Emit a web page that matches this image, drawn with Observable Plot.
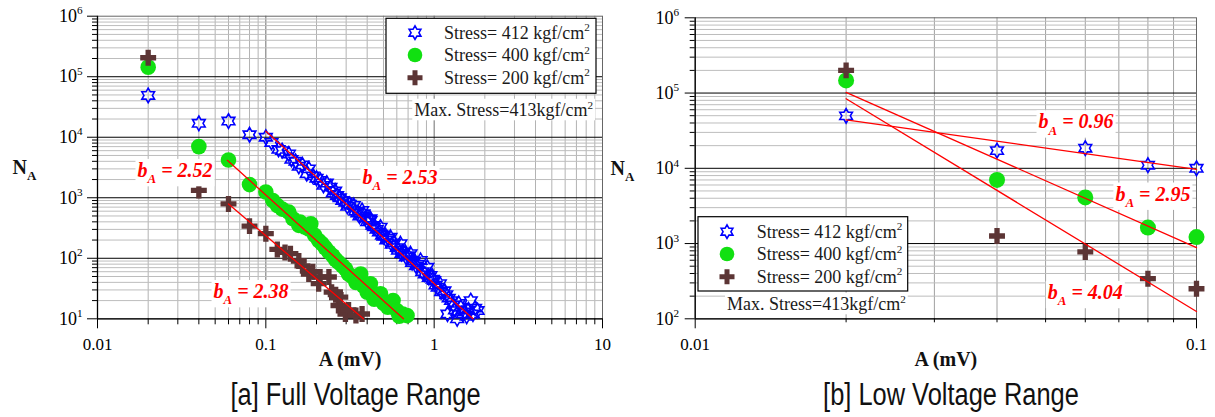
<!DOCTYPE html>
<html><head><meta charset="utf-8">
<script src="https://cdn.jsdelivr.net/npm/d3@7"></script>
<script src="https://cdn.jsdelivr.net/npm/@observablehq/plot@0.6"></script>
<style>
html,body{margin:0;padding:0;background:#fff;}
#wrap{display:flex;width:1215px;height:417px;overflow:hidden;}
.panel{position:relative;height:417px;}
.cap{position:absolute;text-align:center;white-space:nowrap;color:#111;font-family:"Liberation Sans",Arial,sans-serif;font-size:31px;line-height:34px;}
.cap span{display:inline-block;transform:scaleX(0.82);transform-origin:center;}
</style></head><body>
<div id="wrap"><div class="panel" id="pa"></div><div class="panel" id="pb"></div></div>
<script>
const SERIF = "'Liberation Serif','Times New Roman',serif";

// ---------- data: panel [a] Full Voltage Range ----------
const a412 = [[0.02,49000],[0.04,17000],[0.06,18500],[0.08,11000],[0.1,10000],
 [0.108,8200],[0.119,6300],[0.125,6000],[0.137,5300],[0.142,4300],[0.15,4000],[0.157,3300],[0.165,3500],
 [0.18,3000],[0.175,2500],[0.19,2300],[0.2,2100],[0.211,1930],[0.22,1600],[0.23,1750],[0.242,1500],
 [0.25,1200],[0.258,1300],[0.265,1090],[0.275,1000],[0.285,900],[0.297,845],[0.305,720],[0.315,780],
 [0.333,746],[0.34,600],[0.35,560],[0.36,500],[0.373,617],[0.38,543],[0.39,460],[0.40,400],[0.418,449],
 [0.418,421],[0.43,350],[0.44,330],[0.455,300],[0.47,270],[0.48,327],[0.49,240],[0.5,230],[0.52,200],
 [0.53,215],[0.55,223],[0.56,170],[0.58,180],[0.6,150],[0.61,135],[0.63,174],[0.64,120],[0.66,125],
 [0.68,105],[0.70,110],[0.723,119],[0.74,85],[0.76,90],[0.78,75],[0.8,80],[0.83,92],[0.85,60],[0.88,55],
 [0.91,71],[0.93,48],[0.95,52],[0.98,45],[1.0,43],[1.02,36],[1.05,33],[1.08,38],[1.1,28],[1.15,29],
 [1.18,25],[1.2,12],[1.22,22],[1.26,20],[1.3,17],[1.33,14],[1.37,10],[1.4,18],[1.44,15.5],[1.48,12],
 [1.52,13],[1.56,11],[1.6,14],[1.65,20],[1.7,12],[1.75,15],[1.81,13.7]];
const a400 = [[0.02,144000],[0.04,7000],[0.06,4200],[0.08,1650],[0.1,1240],[0.11,900],[0.117,746],
 [0.125,650],[0.137,578],[0.145,450],[0.157,350],[0.16,395],[0.17,330],[0.18,306],[0.185,372],[0.195,240],
 [0.206,197],[0.215,175],[0.225,150],[0.237,127],[0.25,110],[0.26,95],[0.27,86],[0.285,75],[0.297,67],
 [0.31,55],[0.325,50],[0.343,40],[0.355,45],[0.366,55],[0.38,35],[0.4,27.6],[0.418,38],[0.43,25],
 [0.44,21],[0.46,24],[0.48,26],[0.5,18],[0.53,15.5],[0.57,20],[0.6,13.7],[0.62,11],[0.65,12],[0.69,11.3]];
const a200 = [[0.02,206000],[0.04,1320],[0.06,790],[0.08,340],[0.1,255],[0.117,140],[0.13,125],[0.14,119],
 [0.157,90],[0.165,75],[0.18,55],[0.19,60],[0.206,38],[0.21,49],[0.237,49],[0.246,27.5],[0.26,25],
 [0.27,16.6],[0.277,22.8],[0.297,12],[0.31,14],[0.343,11.3],[0.373,12]];
const fitA412 = [[0.1,12600],[1.70,10]];
const fitA400 = [[0.059,4150],[0.657,10]];
const fitA200 = [[0.06,790],[0.38,10]];
const labelsA = [{x:0.01728,y:2820,text:"b_A = 2.52"},{x:0.375,y:2160,text:"b_A = 2.53"},{x:0.0489,y:28.2,text:"b_A = 2.38"}];

// ---------- data: panel [b] Low Voltage Range ----------
const bX   = [0.02, 0.04, 0.06, 0.08, 0.1];
const b412 = [49800, 17200, 18500, 11000, 10000];
const b400 = [147000, 7000, 4100, 1630, 1220];
const b200 = [200000, 1260, 773, 341, 251];
const fitB412 = [[0.02,44000],[0.1,9700]];
const fitB400 = [[0.02,102000],[0.1,885]];
const fitB200 = [[0.02,84000],[0.1,125]];
const labelsB = [{x:0.0484,y:41400,text:"b_A = 0.96"},{x:0.0689,y:4540,text:"b_A = 2.95"},{x:0.0505,y:224,text:"b_A = 4.04"}];

// ---------- labels / ticks ----------
const seriesLabels = ["Stress= 412 kgf/cm^2","Stress= 400 kgf/cm^2","Stress= 200 kgf/cm^2"];
const maxStressText = "Max. Stress=413kgf/cm^2";
const xTicksA = [0.01,0.1,1,10], xTickLabelsA = ["0.01","0.1","1","10"];
const xTicksB = [0.01,0.1], xTickLabelsB = ["0.01","0.1"];
const yTicksA = [10,100,1e3,1e4,1e5,1e6];
const yTicksB = [100,1e3,1e4,1e5,1e6];
const captionA = "[a] Full Voltage Range", captionB = "[b] Low Voltage Range";

const COL412 = "#0000ff", COL400 = "#11e011", COL200 = "#5c3535", RED = "#ff0000";

const hexagram = {draw(ctx, size){
  const R = Math.sqrt(size/Math.PI), r = R/Math.sqrt(3);
  for (let i=0;i<12;i++){const a=-Math.PI/2+i*Math.PI/6, q=i%2?r:R;
    const x=q*Math.cos(a), y=q*Math.sin(a); i?ctx.lineTo(x,y):ctx.moveTo(x,y);}
  ctx.closePath();
}};
function minorTicks(lo, hi){const o=[];for(let e=lo;e<hi;e++)for(let k=2;k<=9;k++)o.push(+(k*Math.pow(10,e)).toPrecision(6));return o;}
const pts = arr => arr.map(([x,y])=>({x,y}));
const zipPts = (xs, ys) => xs.map((x,i)=>({x, y: ys[i]}));

function makePanel(c){
  return Plot.plot({
    width:c.width, height:c.height, marginLeft:c.ml, marginRight:c.mr, marginTop:c.mt, marginBottom:c.mb,
    x:{type:"log", domain:c.xDomain, label:null},
    y:{type:"log", domain:c.yDomain, label:null},
    style:{fontFamily:SERIF, fontSize:"17px", color:"#000", background:"transparent", overflow:"visible", display:"block"},
    marks:[
      Plot.frame({fill:"#fff", stroke:"none"}),
      Plot.ruleX(c.xMinor, {stroke:c.xMinorColor, strokeWidth:1}),
      Plot.ruleX(c.xGridMajor, {stroke:"#6e6e6e", strokeWidth:1}),
      Plot.ruleY(c.yMinor, {stroke:"#bdbdbd", strokeWidth:1}),
      Plot.ruleY(c.yGridMajor, {stroke:"#000", strokeWidth:1}),
      Plot.frame({stroke:"#666"}),
      Plot.ruleX([c.xDomain[0]], {stroke:"#000", strokeWidth:1.3}),
      Plot.ruleY([c.yDomain[0]], {stroke:"#000", strokeWidth:1.3}),
      Plot.axisX({ticks:c.xMinor, tickSize:c.xMinorTick, tickFormat:()=>"", label:null}),
      Plot.axisX({ticks:c.xTicks, tickSize:10, tickPadding:9, fontSize:17, label:null,
        tickFormat:d=>c.xTickLabels[c.xTicks.indexOf(d)]}),
      Plot.axisY({ticks:c.yMinor, tickSize:5, tickFormat:()=>"", label:null}),
      Plot.axisY({ticks:c.yTicks, tickSize:10, tickPadding:c.yPad, fontSize:18, label:null,
        tickFormat:d=>"10^"+Math.round(Math.log10(d))}),
      Plot.dot(c.d400, {x:"x", y:"y", symbol:"circle", r:c.rc, fill:COL400}),
      Plot.dot(c.d412, {x:"x", y:"y", symbol:hexagram, r:c.rs, stroke:COL412, strokeWidth:1.6, fill:"none"}),
      Plot.dot(c.d200, {x:"x", y:"y", symbol:"cross", r:6.7, fill:COL200}),
      ...c.fits.map(f=>Plot.line(pts(f), {x:"x", y:"y", stroke:RED, strokeWidth:1.3})),
      Plot.text(c.labels, {x:"x", y:"y", text:"text", textAnchor:"start", fill:RED, fontSize:20,
        fontWeight:"bold", fontStyle:"italic", fontFamily:SERIF}),
      Plot.text(["N_A"], {text:d=>d, frameAnchor:"left", dx:c.nDx, textAnchor:"start", fontSize:20, fontWeight:"bold", fill:"#111"}),
      Plot.text(["A (mV)"], {text:d=>d, frameAnchor:"bottom", dy:47, fontSize:20, fontWeight:"bold", fill:"#111"})
    ]
  });
}

function addLegend(svg, o){
  const g = d3.select(svg).append("g").attr("font-family", SERIF).attr("font-size", 18)
    .attr("fill", "#1a1a1a").attr("text-anchor", "start");
  g.append("rect").attr("x",o.x).attr("y",o.y).attr("width",o.w).attr("height",o.h)
    .attr("fill","#fff").attr("stroke","#000").attr("stroke-width",1.2);
  const items = [
    {sym:hexagram, size:Math.PI*6.8*6.8, fill:"none", stroke:COL412},
    {sym:d3.symbolCircle, size:Math.PI*7.3*7.3, fill:COL400, stroke:"none"},
    {sym:d3.symbolCross, size:125, fill:COL200, stroke:"none"}];
  items.forEach((it,i)=>{
    const cy = o.y + o.rows[i];
    g.append("path").attr("transform",`translate(${o.x+o.sx},${cy})`).attr("d", d3.symbol(it.sym, it.size)())
      .attr("fill", it.fill).attr("stroke", it.stroke).attr("stroke-width", 1.6);
    g.append("text").attr("x", o.x+o.tx).attr("y", cy).attr("dy","0.35em").attr("text-anchor","start").text(seriesLabels[i]);
  });
  g.append("text").attr("class","boxed").attr("x", o.mx).attr("y", o.my).attr("dy","0.35em")
    .attr("text-anchor", o.manchor).text(maxStressText);
}

function richText(svg){
  d3.select(svg).selectAll("text").each(function(){
    const el = this;
    if (el.querySelector("tspan")) return;
    const t = el.textContent;
    const fs = parseFloat(getComputedStyle(el).fontSize) || 17;
    const s = d3.select(el);
    if (t.includes("^")){
      const [a,b] = t.split("^");
      el.textContent = "";
      s.append("tspan").text(a);
      s.append("tspan").attr("dy", -fs*0.42).attr("font-size", fs*0.62).text(b);
    } else if (/_\S/.test(t)){
      const m = t.match(/^(.*?)_(\S)(.*)$/);
      el.textContent = "";
      s.append("tspan").text(m[1]);
      s.append("tspan").attr("dy", fs*0.32).attr("font-size", fs*0.65).text(m[2]);
      if (m[3]) s.append("tspan").attr("dy", -fs*0.32).text(m[3]);
      if (m[1] === "b") el.classList.add("boxed");
    }
  });
  d3.select(svg).selectAll("text.boxed").each(function(){
    const el = this, bb = el.getBBox();
    const r = document.createElementNS("http://www.w3.org/2000/svg","rect");
    r.setAttribute("x", bb.x-2); r.setAttribute("y", bb.y);
    r.setAttribute("width", bb.width+4); r.setAttribute("height", bb.height);
    r.setAttribute("fill", "#fff");
    const tr = el.getAttribute("transform"); if (tr) r.setAttribute("transform", tr);
    el.parentNode.insertBefore(r, el);
  });
}

function mount(id, svg, c, caption, legend){
  const host = document.getElementById(id);
  host.style.width = c.width + "px";
  host.appendChild(svg);
  addLegend(svg, legend);
  richText(svg);
  const cap = document.createElement("div");
  cap.className = "cap";
  const fw = c.width - c.ml - c.mr;
  cap.style.left = (c.ml + 6) + "px"; cap.style.width = fw + "px"; cap.style.top = (c.height) + "px";
  const sp = document.createElement("span"); sp.textContent = caption; cap.appendChild(sp);
  host.appendChild(cap);
}

const cA = {width:605, height:378, ml:97, mr:3, mt:15.7, mb:59.7,
  xDomain:[0.01,10], yDomain:[10,1e6], xTicks:xTicksA, xTickLabels:xTickLabelsA, yTicks:yTicksA,
  xMinor:minorTicks(-2,1), yMinor:minorTicks(1,6), xGridMajor:[0.1,1], yGridMajor:[100,1e3,1e4,1e5],
  xMinorColor:"#b3b3b3", xMinorTick:6, yPad:5, rc:7.8, rs:7.3, nDx:-85,
  d412:pts(a412), d400:pts(a400), d200:pts(a200), fits:[fitA412,fitA400,fitA200], labels:labelsA};
const cB = {width:610, height:378, ml:89.7, mr:19, mt:17.3, mb:59.7,
  xDomain:[0.01,0.1], yDomain:[100,1e6], xTicks:xTicksB, xTickLabels:xTickLabelsB, yTicks:yTicksB,
  xMinor:minorTicks(-2,-1), yMinor:minorTicks(2,6), xGridMajor:[], yGridMajor:[1e3,1e4,1e5],
  xMinorColor:"#a0a0a0", xMinorTick:4, yPad:6, rc:8, rs:7.3, nDx:-84.7,
  d412:zipPts(bX,b412), d400:zipPts(bX,b400), d200:zipPts(bX,b200), fits:[fitB412,fitB400,fitB200], labels:labelsB};

mount("pa", makePanel(cA), cA, captionA,
  {x:386, y:18.3, w:210, h:75, sx:29, tx:58, rows:[14.4,36.7,59.4], mx:593, my:110, manchor:"end"});
mount("pb", makePanel(cB), cB, captionB,
  {x:93, y:216.7, w:209.7, h:74.3, sx:29, tx:58.7, rows:[15,37.3,60], mx:122, my:304, manchor:"start"});
</script>
</body></html>
